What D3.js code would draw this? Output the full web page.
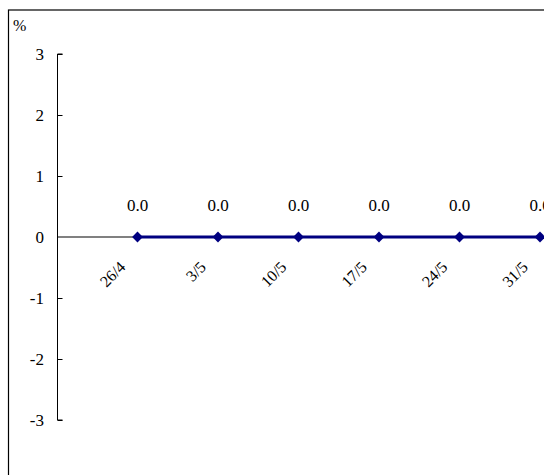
<!DOCTYPE html>
<html>
<head>
<meta charset="utf-8">
<script src="https://cdn.jsdelivr.net/npm/d3@7"></script>
<style>
  body { margin: 0; background: #fff; overflow: hidden; }
  svg text { font-family: "Liberation Serif", serif; }
</style>
</head>
<body>
<svg id="chart" width="544" height="475"></svg>
<script>
// weekly dates and the % change for each week
const dates = ["26/4", "3/5", "10/5", "17/5", "24/5", "31/5"];
const values = [0, 0, 0, 0, 0, 0];
const yTicks = [-3, -2, -1, 0, 1, 2, 3];

const svg = d3.select("#chart");

// outer frame, it runs off the right and bottom of the picture
svg.append("rect")
    .attr("x", 8.5).attr("y", 10)
    .attr("width", 600).attr("height", 520)
    .attr("fill", "none")
    .attr("stroke", "#000")
    .attr("stroke-width", 1.2);

const x = d3.scaleLinear().domain([-1, dates.length - 1]).range([57, 540]);
const y = d3.scaleLinear().domain([-3, 3]).range([420, 54]);

// y axis, ticks point inwards, labels on the left
const yAxis = d3.axisRight(y).tickValues(yTicks).tickSize(5).tickFormat("");
const ya = svg.append("g").attr("transform", "translate(57.5,0)").call(yAxis);
ya.select(".domain").attr("stroke", "#000").attr("d", "M5," + y(3) + "H0V" + y(-3) + "H5");
ya.selectAll(".tick line").attr("stroke", "#000");

svg.selectAll(".ytick")
    .data(yTicks)
    .join("text")
    .attr("x", 44)
    .attr("y", d => y(d))
    .attr("dy", "0.35em")
    .attr("text-anchor", "end")
    .attr("font-size", 17)
    .text(d => d);

svg.append("text")
    .attr("x", 13).attr("y", 31).attr("font-size", 16).text("%");

// zero line
svg.append("line")
    .attr("x1", 58).attr("x2", 560)
    .attr("y1", y(0)).attr("y2", y(0))
    .attr("stroke", "#808080")
    .attr("stroke-width", 2);

// category labels, rotated
svg.selectAll(".xlab")
    .data(dates)
    .join("text")
    .attr("text-anchor", "end")
    .attr("font-size", 16)
    .attr("transform", (d, i) => `translate(${x(i) - 11},${y(0) + 31}) rotate(-45)`)
    .text(d => d);

// series
const line = d3.line().x((d, i) => x(i)).y(d => y(d));
svg.append("path")
    .datum(values)
    .attr("d", line)
    .attr("fill", "none")
    .attr("stroke", "#000080")
    .attr("stroke-width", 3);

svg.selectAll(".pt")
    .data(values)
    .join("path")
    .attr("d", d3.symbol(d3.symbolSquare, 58))
    .attr("transform", (d, i) => `translate(${x(i)},${y(d)}) rotate(45)`)
    .attr("fill", "#000080");

svg.selectAll(".vlab")
    .data(values)
    .join("text")
    .attr("x", (d, i) => x(i))
    .attr("y", d => y(d) - 26)
    .attr("text-anchor", "middle")
    .attr("font-size", 17)
    .text(d => d.toFixed(1));
</script>
</body>
</html>
